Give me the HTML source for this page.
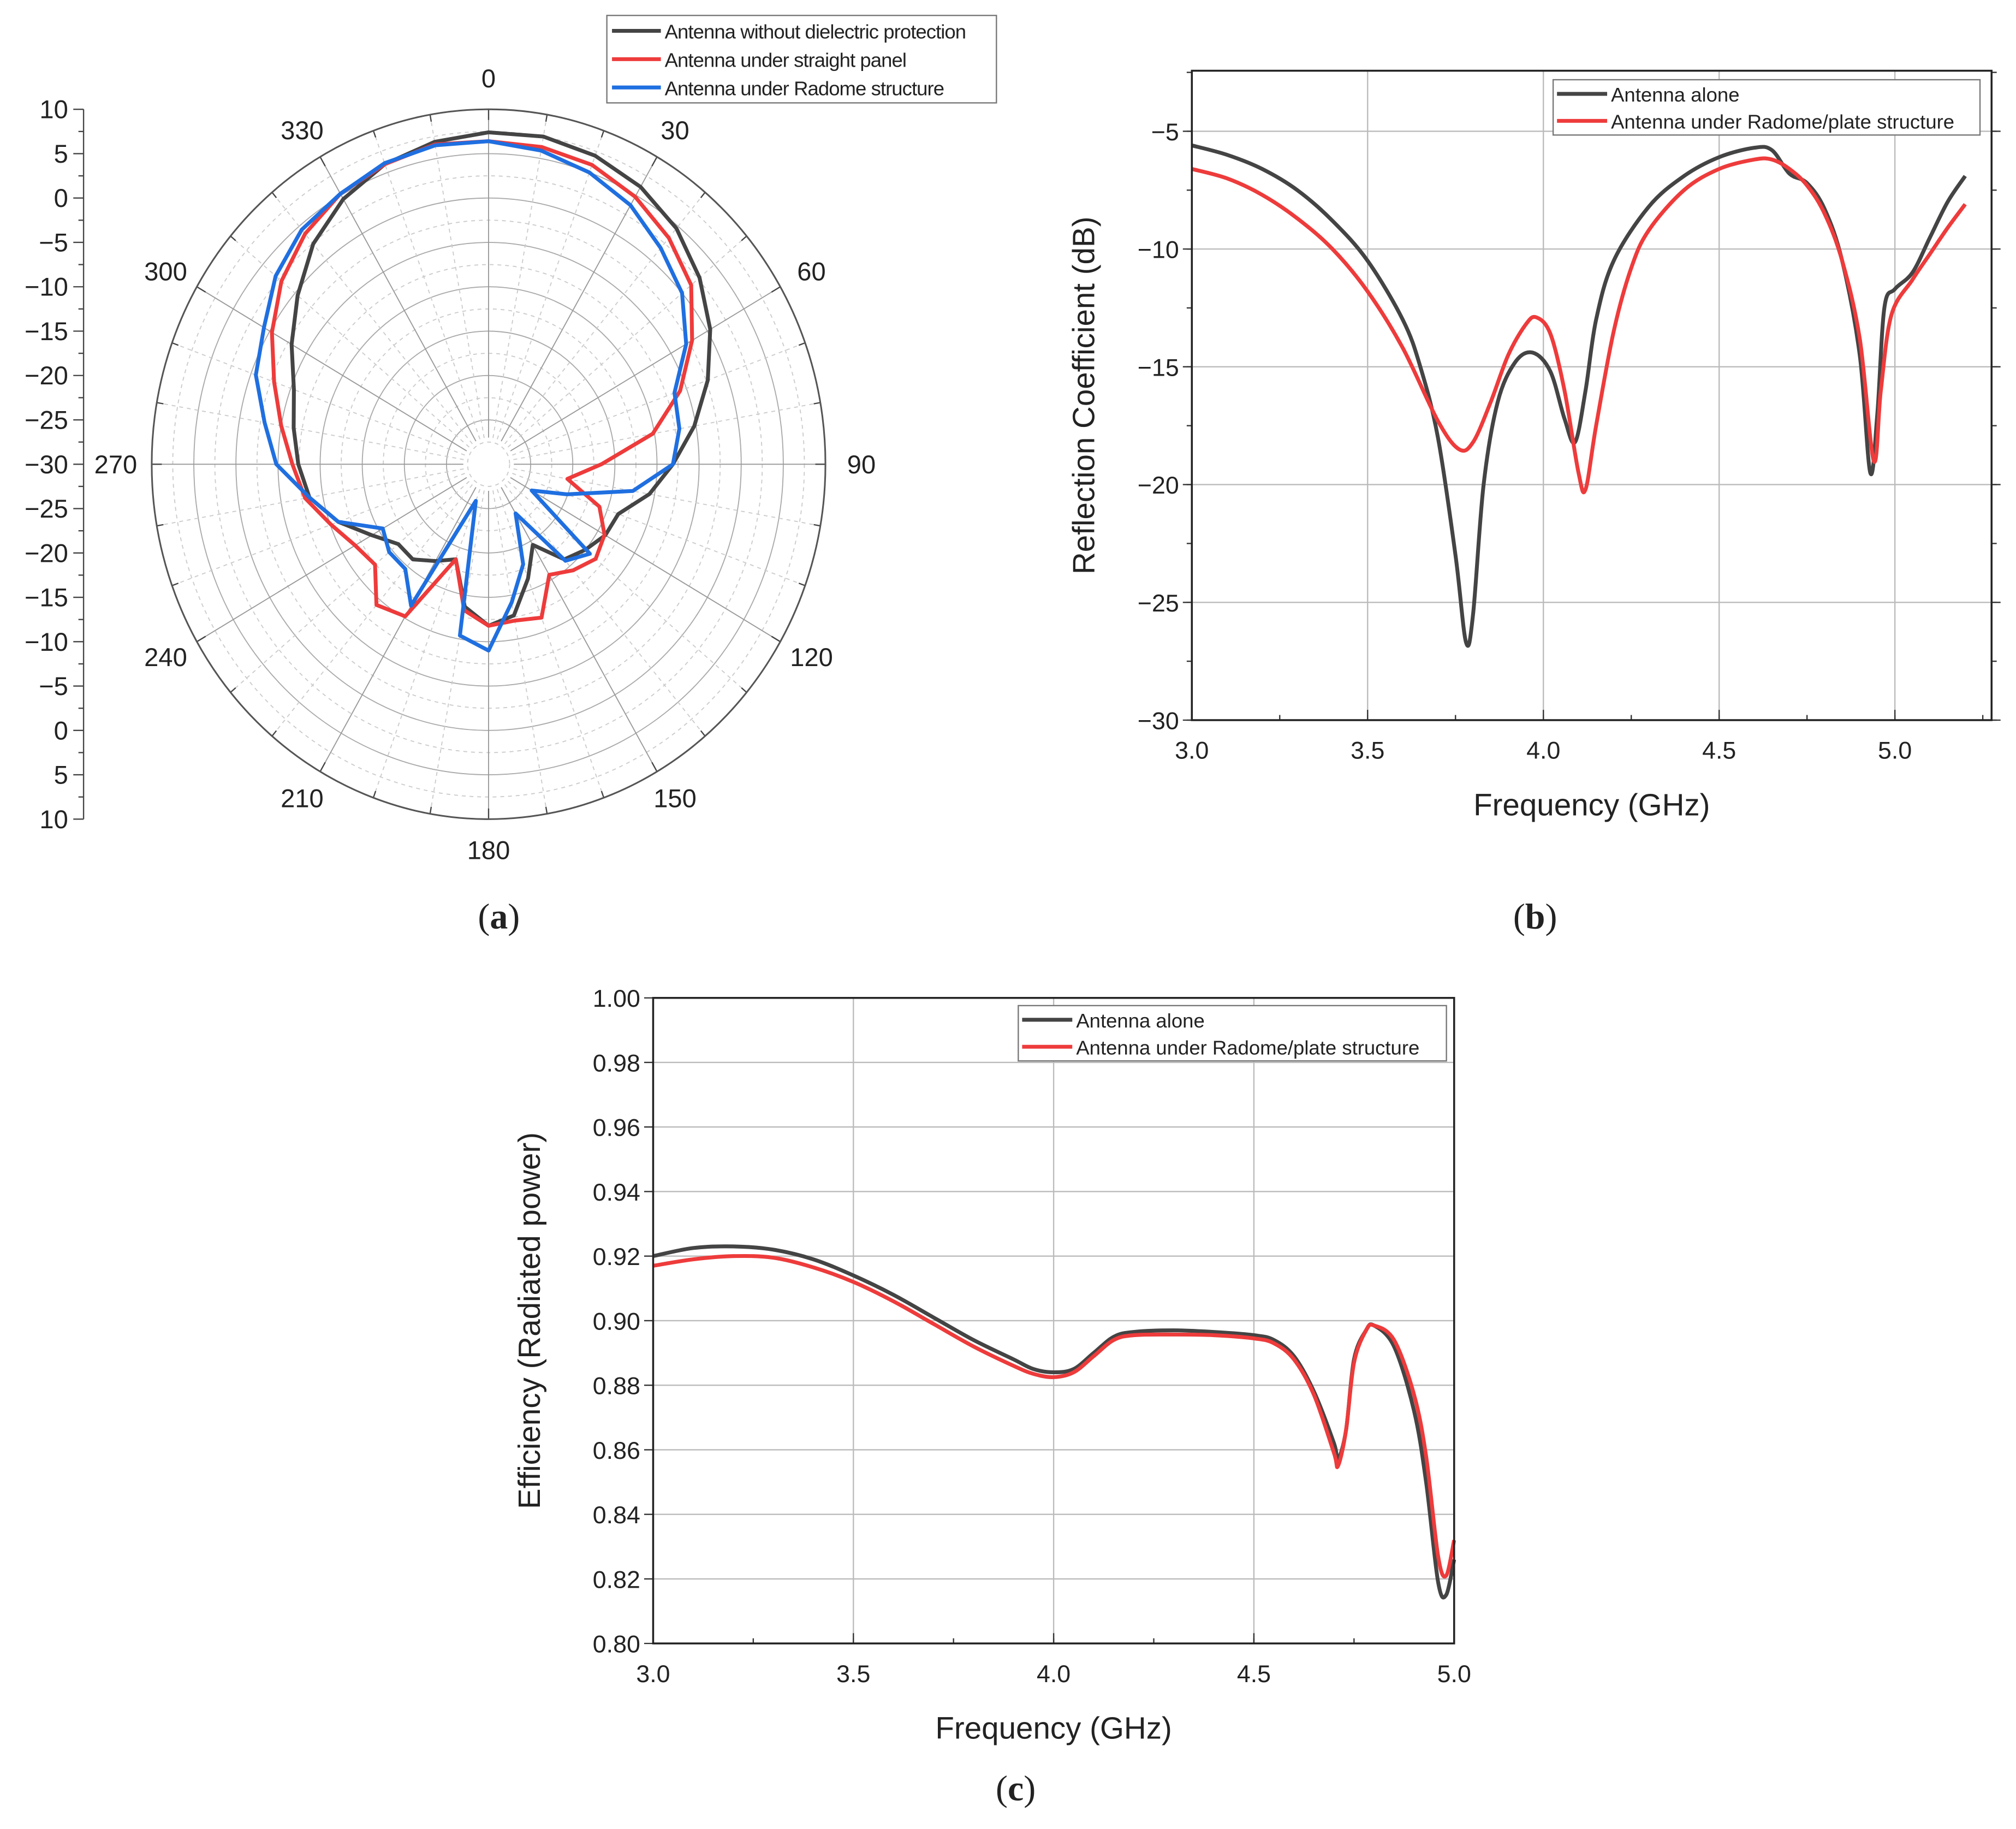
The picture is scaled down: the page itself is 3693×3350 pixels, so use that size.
<!DOCTYPE html>
<html><head><meta charset="utf-8"><style>
html,body{margin:0;padding:0;background:#fff}
svg{display:block}
text{font-family:"Liberation Sans",sans-serif;fill:#222}
</style></head><body>
<svg id="fig" xmlns="http://www.w3.org/2000/svg" width="3693" height="3350" viewBox="0 0 1568 1422.3" preserveAspectRatio="none">
<rect width="1568" height="1422.3" fill="#fff"/>
<g id="pa"></g>
<g id="pb"></g>
<g id="pc"></g>
<text x="388" y="722" text-anchor="middle" font-size="28" style="font-family:'Liberation Serif',serif">(<tspan font-weight="bold">a</tspan>)</text>
<text x="1194" y="722" text-anchor="middle" font-size="28" style="font-family:'Liberation Serif',serif">(<tspan font-weight="bold">b</tspan>)</text>
<text x="790" y="1400" text-anchor="middle" font-size="28" style="font-family:'Liberation Serif',serif">(<tspan font-weight="bold">c</tspan>)</text>
</svg>
<script>
// ---------- Polar data ----------
const polarAngles=[0,10,20,30,40,50,60,70,80,90,100,110,120,130,140,150,160,170,180,190,200,210,220,230,240,250,260,270,280,290,300,310,320,330,340,350];
const polarBlack=[7.4,7.5,7.0,6.1,4.7,2.7,0.4,-2.3,-5.2,-8.1,-10.6,-13.6,-14,-15,-16,-19.5,-16.3,-12.7,-11.8,-13.7,-18.6,-17.4,-16,-16,-14,-11,-8.4,-7.4,-6.5,-5.4,-3,-0.4,2.4,4.5,6,6.9];
const polarRed=[6.4,6.3,5.9,4.8,3.3,1.4,-2.1,-5.8,-10.2,-16.6,-20.5,-16,-14.1,-13.4,-14.4,-15.6,-11.6,-12.1,-11.8,-13.3,-18.6,-10.2,-9.3,-12.4,-11.7,-10.1,-7.9,-6.7,-5,-2.9,-0.3,2.1,3.9,5.2,6,6.6];
const polarBlue=[6.4,5.9,5.0,3.7,1.8,0,-2.9,-6.5,-7,-8.1,-12.6,-20.1,-24.1,-14.3,-15.8,-23.6,-18,-14.2,-9,-10.4,-25.6,-11.6,-14.6,-14.6,-15.5,-11,-8.4,-4.8,-3,-0.6,0.8,3,4.5,5.2,6.1,6.5];
const polarTicks=[10,5,0,-5,-10,-15,-20,-25,-30,-25,-20,-15,-10,-5,0,5,10];
// ---------- Reflection data ----------
const refFreqBlack=[3.0,3.1,3.2,3.3,3.4,3.5,3.6,3.65,3.7,3.75,3.78,3.8,3.83,3.87,3.92,3.97,4.02,4.06,4.09,4.12,4.15,4.2,4.3,4.4,4.5,4.6,4.65,4.7,4.75,4.8,4.85,4.9,4.93,4.95,4.97,5.0,5.05,5.1,5.15,5.2];
const refBlack=[-5.6,-6.0,-6.6,-7.5,-8.8,-10.5,-13.0,-15,-18,-23,-26.7,-25.5,-20,-16.5,-14.8,-14.4,-15.2,-17.2,-18.2,-16,-13,-10.5,-8.2,-6.9,-6.1,-5.7,-5.8,-6.8,-7.2,-8.3,-10.5,-14.5,-19.5,-17,-12.5,-11.7,-11,-9.5,-8.0,-6.9];
const refFreqRed=[3.0,3.1,3.2,3.3,3.4,3.5,3.6,3.7,3.76,3.8,3.85,3.9,3.95,3.98,4.02,4.06,4.1,4.12,4.15,4.2,4.25,4.3,4.4,4.5,4.6,4.65,4.7,4.75,4.8,4.85,4.9,4.94,4.96,4.99,5.05,5.1,5.15,5.2];
const refRed=[-6.6,-7.0,-7.7,-8.7,-10.0,-11.8,-14.2,-17.3,-18.5,-18.2,-16.5,-14.5,-13.2,-12.9,-13.6,-16,-19.5,-20.2,-17.5,-13.5,-10.8,-9.2,-7.5,-6.6,-6.2,-6.2,-6.6,-7.3,-8.5,-10.5,-13.8,-19,-16,-12.8,-11.3,-10.2,-9.1,-8.1];
const refXTicks=[3.0,3.5,4.0,4.5,5.0];
const refYTicks=[-5,-10,-15,-20,-25,-30];
// ---------- Efficiency data ----------
const effFreq=[3.0,3.1,3.2,3.3,3.4,3.5,3.6,3.7,3.8,3.9,3.95,4.0,4.05,4.1,4.15,4.2,4.3,4.4,4.5,4.55,4.6,4.65,4.7,4.71,4.73,4.75,4.78,4.8,4.85,4.9,4.93,4.96,4.98,5.0];
const effBlack=[.920,.9225,.923,.922,.919,.914,.908,.901,.894,.888,.885,.884,.885,.890,.895,.8965,.897,.8965,.8955,.894,.889,.878,.862,.857,.866,.888,.897,.8985,.892,.872,.850,.819,.815,.826];
const effRed=[.917,.919,.920,.9195,.9165,.912,.906,.899,.892,.886,.8835,.8825,.884,.889,.894,.8955,.8957,.8955,.8945,.893,.888,.877,.859,.855,.866,.887,.897,.8985,.894,.877,.858,.827,.821,.832];
const effXTicks=[3.0,3.5,4.0,4.5,5.0];
const effYTicks=[1.00,0.98,0.96,0.94,0.92,0.90,0.88,0.86,0.84,0.82,0.80];

const NS="http://www.w3.org/2000/svg";
function mk(parent,tag,attrs,txt){const e=document.createElementNS(NS,tag);for(const k in attrs)e.setAttribute(k,attrs[k]);if(txt!==undefined)e.textContent=txt;parent.appendChild(e);return e;}
function smooth(pts){let d="M"+pts[0][0].toFixed(2)+","+pts[0][1].toFixed(2);for(let i=0;i<pts.length-1;i++){const p0=pts[Math.max(0,i-1)],p1=pts[i],p2=pts[i+1],p3=pts[Math.min(pts.length-1,i+2)];const c1=[p1[0]+(p2[0]-p0[0])/6,p1[1]+(p2[1]-p0[1])/6],c2=[p2[0]-(p3[0]-p1[0])/6,p2[1]-(p3[1]-p1[1])/6];d+=" C"+c1[0].toFixed(2)+","+c1[1].toFixed(2)+" "+c2[0].toFixed(2)+","+c2[1].toFixed(2)+" "+p2[0].toFixed(2)+","+p2[1].toFixed(2);}return d;}

// ===== Polar =====
(function(){
const g=document.getElementById('pa');
const cx=380,cy=361,rx=262,ry=276;
const rr=v=>(v+30)/40;
const P=(a,v)=>{const t=a*Math.PI/180,r=rr(v);return [cx+r*rx*Math.sin(t),cy-r*ry*Math.cos(t)];};
for(let v=-27.5;v<10;v+=5){const r=rr(v);let e=mk(g,'ellipse',{cx,cy,rx:r*rx,ry:r*ry,fill:'none',stroke:'#ccc','stroke-width':0.8,'stroke-dasharray':'3,3'});

}
for(let v=-25;v<10;v+=5){const r=rr(v);let e=mk(g,'ellipse',{cx,cy,rx:r*rx,ry:r*ry,fill:'none',stroke:'#aaa','stroke-width':0.8});

}
for(let a=0;a<360;a+=10){const p1=P(a,-27),p2=P(a,10);const major=a%30===0;let l=mk(g,'line',{x1:p1[0],y1:p1[1],x2:p2[0],y2:p2[1],stroke:major?'#999':'#ccc','stroke-width':0.8,'stroke-dasharray':major?'none':'3,3'});


const q=P(a,10),q2=P(a,10-(major?1.2:0.8));let t=mk(g,'line',{x1:q[0],y1:q[1],x2:q2[0],y2:q2[1],stroke:'#444','stroke-width':1});

}
mk(g,'ellipse',{cx,cy,rx:14,ry:15,fill:'#fff'});
let oc=mk(g,'ellipse',{cx,cy,rx,ry,fill:'none',stroke:'#555','stroke-width':1.3});


for(let a=0;a<360;a+=30){const t=a*Math.PI/180;const x=cx+(rx+28)*Math.sin(t),y=cy-(ry+24)*Math.cos(t)+7;let tx=mk(g,'text',{x,y,'text-anchor':'middle','font-size':20},String(a));

}
const ax=65,y0=cy-ry,y1=cy+ry;
let al=mk(g,'line',{x1:ax,y1:y0,x2:ax,y2:y1,stroke:'#444','stroke-width':1});


const step=(y1-y0)/(polarTicks.length-1);
polarTicks.forEach((v,i)=>{const y=y0+i*step;mk(g,'line',{x1:ax-8,y1:y,x2:ax,y2:y,stroke:'#444','stroke-width':1});
if(i<polarTicks.length-1)mk(g,'line',{x1:ax-4,y1:y+step/2,x2:ax,y2:y+step/2,stroke:'#444','stroke-width':1});
let t=mk(g,'text',{x:ax-12,y:y+7,'text-anchor':'end','font-size':20},(v<0?'\u2212':'')+Math.abs(v));

});
const series=[[polarBlack,'#444','polar-series-no-protection'],[polarRed,'#ee3b3b','polar-series-straight-panel'],[polarBlue,'#1f6fe0','polar-series-radome']];
series.forEach(s=>{const pts=polarAngles.map((a,i)=>P(a,s[0][i]));let d='M'+pts.map(p=>p[0].toFixed(1)+','+p[1].toFixed(1)).join(' L')+' Z';let p=mk(g,'path',{d,fill:'none',stroke:s[1],'stroke-width':3,'stroke-linejoin':'round'});

});
const lg=mk(g,'g',{});


mk(lg,'rect',{x:472,y:12,width:303,height:68,fill:'#fff',stroke:'#777','stroke-width':1});
[['Antenna without dielectric protection','#444'],['Antenna under straight panel','#ee3b3b'],['Antenna under Radome structure','#1f6fe0']].forEach((e,i)=>{const y=24+i*22;mk(lg,'line',{x1:476,y1:y,x2:514,y2:y,stroke:e[1],'stroke-width':3});let t=mk(lg,'text',{x:517,y:y+6,'font-size':15.5,'letter-spacing':'-0.4'},e[0]);

});
})();

function cart(g,o){
const X=v=>o.x0+(v-o.xmin)/(o.xmax-o.xmin)*(o.x1-o.x0);
const Y=v=>o.y1-(v-o.ymin)/(o.ymax-o.ymin)*(o.y1-o.y0);
o.xt.forEach(v=>{let l=mk(g,'line',{x1:X(v),y1:o.y0,x2:X(v),y2:o.y1,stroke:'#bbb','stroke-width':1});


mk(g,'line',{x1:X(v),y1:o.y1,x2:X(v),y2:o.y1-8,stroke:'#333','stroke-width':1});
let t=mk(g,'text',{x:X(v),y:o.y1+30,'text-anchor':'middle','font-size':19},v.toFixed(1));

});
for(let v=o.xmin;v<=o.xmax+1e-9;v+=o.xminor){mk(g,'line',{x1:X(v),y1:o.y1,x2:X(v),y2:o.y1-4,stroke:'#333','stroke-width':1});}
o.yt.forEach(v=>{let l=mk(g,'line',{x1:o.x0,y1:Y(v),x2:o.x1,y2:Y(v),stroke:'#bbb','stroke-width':1});


mk(g,'line',{x1:o.x0,y1:Y(v),x2:o.x0-7,y2:Y(v),stroke:'#333','stroke-width':1});
if(o.rightTicks)mk(g,'line',{x1:o.x1,y1:Y(v),x2:o.x1+7,y2:Y(v),stroke:'#333','stroke-width':1});
let t=mk(g,'text',{x:o.x0-10,y:Y(v)+7,'text-anchor':'end','font-size':19},o.yfmt(v));

});
if(o.yminor)for(let v=o.ymin;v<=o.ymax+1e-9;v+=o.yminor){mk(g,'line',{x1:o.x0,y1:Y(v),x2:o.x0-4,y2:Y(v),stroke:'#333','stroke-width':1});if(o.rightTicks)mk(g,'line',{x1:o.x1,y1:Y(v),x2:o.x1+4,y2:Y(v),stroke:'#333','stroke-width':1});}
o.series.forEach(s=>{const pts=s.x.map((x,i)=>[X(x),Y(s.y[i])]);let p=mk(g,'path',{d:smooth(pts),fill:'none',stroke:s.c,'stroke-width':3,'stroke-linejoin':'round'});

});
let f=mk(g,'rect',{x:o.x0,y:o.y0,width:o.x1-o.x0,height:o.y1-o.y0,fill:'none',stroke:'#222','stroke-width':1.5});


let xt=mk(g,'text',{x:(o.x0+o.x1)/2,y:o.xtY,'text-anchor':'middle','font-size':24},'Frequency (GHz)');


let yt=mk(g,'text',{x:0,y:0,'text-anchor':'middle','font-size':24,transform:`translate(${o.ytX},${(o.y0+o.y1)/2}) rotate(-90)`},o.ytitle);


const lg=mk(g,'g',{});


mk(lg,'rect',{x:o.lg[0],y:o.lg[1],width:o.lg[2],height:43,fill:'#fff',stroke:'#777','stroke-width':1});
[['Antenna alone','#444'],['Antenna under Radome/plate structure','#ee3b3b']].forEach((e,i)=>{const y=o.lg[1]+11+i*21;mk(lg,'line',{x1:o.lg[0]+3,y1:y,x2:o.lg[0]+42,y2:y,stroke:e[1],'stroke-width':3});let t=mk(lg,'text',{x:o.lg[0]+45,y:y+6,'font-size':15.5},e[0]);

});
}
cart(document.getElementById('pb'),{x0:927,x1:1549,y0:55,y1:560,xmin:3.0,xmax:5.275,ymin:-30,ymax:-2.43,xt:refXTicks,yt:refYTicks,xminor:0.25,yminor:2.5,rightTicks:true,
yfmt:v=>'\u2212'+Math.abs(v),ytitle:'Reflection Coefficient (dB)',ytX:851,xtY:634,lg:[1208,62,332],
series:[{x:refFreqBlack,y:refBlack,c:'#444',n:'series-antenna-alone'},{x:refFreqRed,y:refRed,c:'#ee3b3b',n:'series-antenna-radome'}]});
cart(document.getElementById('pc'),{x0:508,x1:1131,y0:776,y1:1278,xmin:3.0,xmax:5.0,ymin:0.80,ymax:1.00,xt:effXTicks,yt:effYTicks,xminor:0.25,yminor:0,rightTicks:false,
yfmt:v=>v.toFixed(2),ytitle:'Efficiency (Radiated power)',ytX:420,xtY:1352,lg:[792,782,333],
series:[{x:effFreq,y:effBlack,c:'#444',n:'series-antenna-alone'},{x:effFreq,y:effRed,c:'#ee3b3b',n:'series-antenna-radome'}]});
</script>
</body></html>
